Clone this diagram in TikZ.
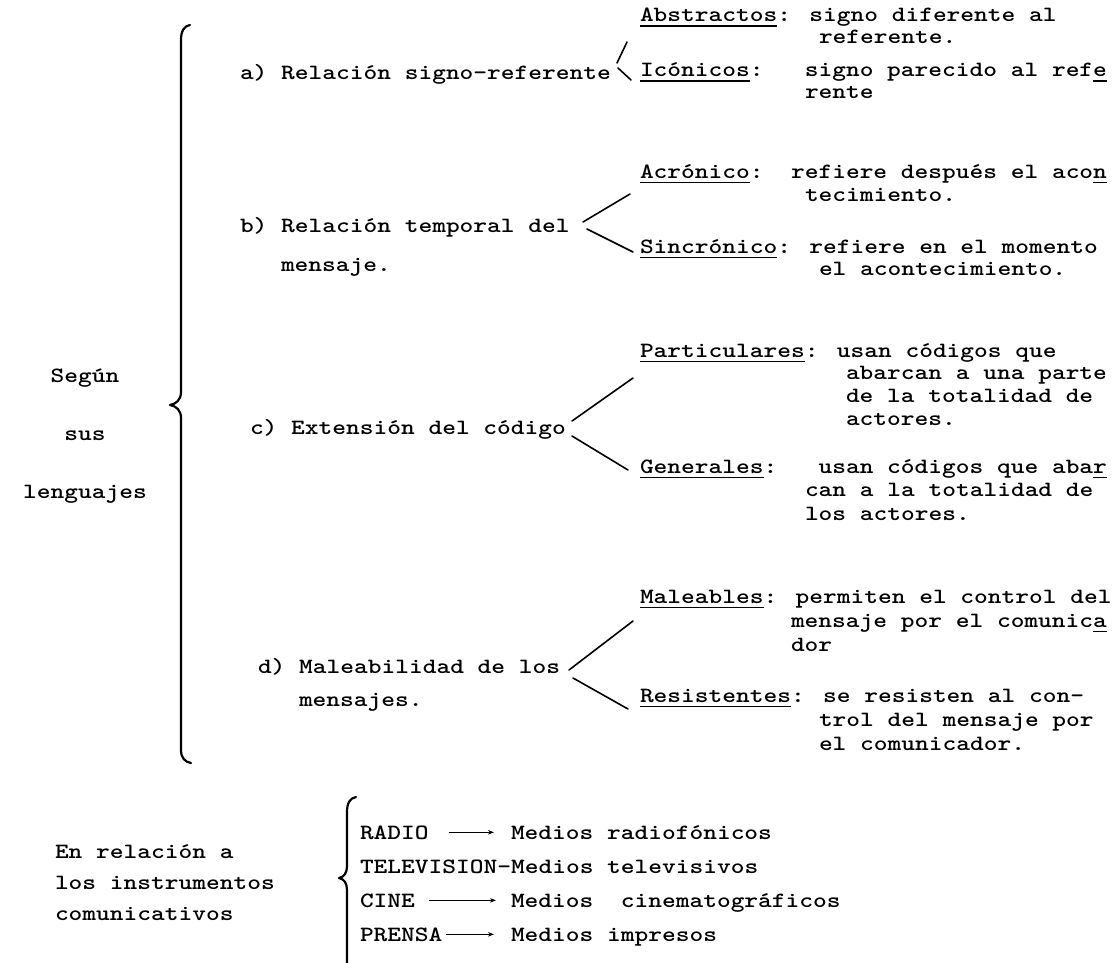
\documentclass[tikz,border=0pt]{standalone}
\usetikzlibrary{arrows.meta,calc}
\newcommand\twr[1]{\scalebox{1.2}[1]{#1}}
\newcommand\tul[1]{\setbox0\hbox{#1}\rlap{\rule[-5pt]{\wd0}{1.5pt}}\box0}
\begin{document}
\begin{tikzpicture}[x=1pt,y=-1pt,
  every node/.style={inner sep=0pt,outer sep=0pt},
  tx/.style={anchor=base west,font=\fontsize{21.8}{24}\selectfont\ttfamily\bfseries},
  tc/.style={anchor=base,font=\fontsize{21.8}{24}\selectfont\ttfamily\bfseries},
  fork/.style={line width=1.6pt,line cap=round},
  brace/.style={line width=2.2pt,line cap=round,line join=round},
  arr/.style={line width=1.2pt,-{Stealth[length=6pt,width=4.5pt]}}]
\fill[white] (0,0) rectangle (1113,963);
\useasboundingbox (0,0) rectangle (1113,963);

% left labels
\node[tc] (seg) at (85,382) {\twr{Según}};
\node[tc] (sus) at (85,440) {\twr{sus}};
\node[tc] (len) at (85,498) {\twr{lenguajes}};

% big brace
\draw[brace] (190,25) .. controls (184,26) and (181,31) .. (181,40) -- (181,392)
  .. controls (181,400) and (176,404) .. (170,405)
  .. controls (176,406) and (181,410) .. (181,418) -- (181,750)
  .. controls (181,758) and (185,762) .. (191,763);

% a)
\node[tx] (a1) at (240,80) {\twr{a) Relación signo-referente}};
\node[tx] (abs1) at (640,22) {\twr{\tul{Abstractos}: signo diferente al}};
\node[tx] (abs2) at (819,44) {\twr{referente.}};
\node[tx] (ico1) at (640,77) {\twr{\tul{Icónicos}:~~~signo parecido al ref\tul{e}}};
\node[tx] (ico2) at (805,99) {\twr{rente}};
\coordinate (fa0) at (617,63); \coordinate (fa1) at (627,42);
\coordinate (fa2) at (618,68); \coordinate (fa3) at (631,80);
\draw[fork] (fa0) -- (fa1);
\draw[fork] (fa2) -- (fa3);

% b)
\node[tx] (b1) at (240,232) {\twr{b) Relación temporal del}};
\node[tx] (b2) at (281,271) {\twr{mensaje.}};
\node[tx] (acr1) at (640,178) {\twr{\tul{Acrónico}:~~refiere después el aco\tul{n}}};
\node[tx] (acr2) at (805,201) {\twr{tecimiento.}};
\node[tx] (sin1) at (640,253) {\twr{\tul{Sincrónico}: refiere en el momento}};
\node[tx] (sin2) at (819,275) {\twr{el acontecimiento.}};
\coordinate (fb0) at (583,222); \coordinate (fb1) at (630,194);
\coordinate (fb2) at (587,229); \coordinate (fb3) at (633,252);
\draw[fork] (fb0) -- (fb1);
\draw[fork] (fb2) -- (fb3);

% c)
\node[tx] (c1) at (250,434) {\twr{c) Extensión del código}};
\node[tx] (par1) at (640,357) {\twr{\tul{Particulares}: usan códigos que}};
\node[tx] (par2) at (846,379) {\twr{abarcan a una parte}};
\node[tx] (par3) at (846,402) {\twr{de la totalidad de}};
\node[tx] (par4) at (846,425) {\twr{actores.}};
\node[tx] (gen1) at (640,473) {\twr{\tul{Generales}:~~~usan códigos que aba\tul{r}}};
\node[tx] (gen2) at (805,496) {\twr{can a la totalidad de}};
\node[tx] (gen3) at (805,520) {\twr{los actores.}};
\coordinate (fc0) at (572,421); \coordinate (fc1) at (633,378);
\coordinate (fc2) at (572,436); \coordinate (fc3) at (628,470);
\draw[fork] (fc0) -- (fc1);
\draw[fork] (fc2) -- (fc3);

% d)
\node[tx] (d1) at (258,673) {\twr{d) Maleabilidad de los}};
\node[tx] (d2) at (299,706) {\twr{mensajes.}};
\node[tx] (mal1) at (640,603) {\twr{\tul{Maleables}: permiten el control del}};
\node[tx] (mal2) at (791,627) {\twr{mensaje por el comunic\tul{a}}};
\node[tx] (mal3) at (791,651) {\twr{dor}};
\node[tx] (res1) at (640,702) {\twr{\tul{Resistentes}: se resisten al con-}};
\node[tx] (res2) at (819,726) {\twr{trol del mensaje por}};
\node[tx] (res3) at (819,750) {\twr{el comunicador.}};
\coordinate (fd0) at (569,670); \coordinate (fd1) at (633,621);
\coordinate (fd2) at (573,678); \coordinate (fd3) at (628,709);
\draw[fork] (fd0) -- (fd1);
\draw[fork] (fd2) -- (fd3);

% bottom group
\node[tx] (rel1) at (55,858) {\twr{En relación a}};
\node[tx] (rel2) at (55,889) {\twr{los instrumentos}};
\node[tx] (rel3) at (55,920) {\twr{comunicativos}};
\draw[brace] (356,797) .. controls (350,798) and (347,803) .. (347,812) -- (347,866)
  .. controls (347,873) and (344,877) .. (339,878)
  .. controls (344,879) and (347,883) .. (347,890) -- (347,970);
\node[tx] (radio) at (360,839) {\twr{RADIO}};
\node[tx] (med1) at (511,839) {\twr{Medios radiofónicos}};
\node[tx] (tv) at (360,873) {\twr{TELEVISION-Medios televisivos}};
\node[tx] (cine) at (360,907) {\twr{CINE}};
\node[tx] (med3) at (511,907) {\twr{Medios~~cinematográficos}};
\node[tx] (prensa) at (360,941) {\twr{PRENSA}};
\node[tx] (med4) at (511,941) {\twr{Medios impresos}};
\draw[arr] ([xshift=20pt]radio.east) -- ($(radio.east -| med1.west)+(-17,0)$);
\draw[arr] ([xshift=14pt]cine.east) -- ($(cine.east -| med3.west)+(-15,0)$);
\draw[arr] ([xshift=4pt]prensa.east) -- ($(prensa.east -| med4.west)+(-17,0)$);
\end{tikzpicture}
\end{document}
